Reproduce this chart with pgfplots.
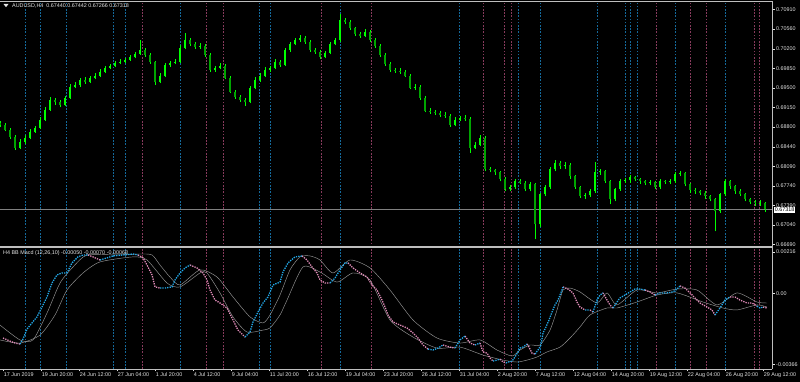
\documentclass[border=0pt]{standalone}
\usepackage{pgfplots}
\pgfplotsset{compat=1.18}
\usepackage{pgfplotstable}
\usepackage{fontspec}
\setmainfont{Liberation Sans}
\definecolor{vblue}{RGB}{20,105,155}
\definecolor{vpink}{RGB}{135,58,92}
\definecolor{cup}{RGB}{0,255,0}
\definecolor{cdn}{RGB}{0,165,0}
\definecolor{mblue}{RGB}{35,170,235}
\definecolor{mpink}{RGB}{225,140,185}
\definecolor{band}{RGB}{150,150,150}
\definecolor{txt}{RGB}{228,228,228}
\definecolor{framec}{RGB}{190,190,190}
\newcommand\tf{\fontsize{5.4}{6}\selectfont}

\pgfplotstableread{
x o h l c
0 0.68870 0.68910 0.68800 0.68839
5 0.68839 0.68870 0.68720 0.68750
10 0.68750 0.68780 0.68590 0.68625
15 0.68625 0.68650 0.68380 0.68428
20 0.68428 0.68580 0.68400 0.68535
25 0.68535 0.68650 0.68500 0.68607
30 0.68607 0.68760 0.68580 0.68714
35 0.68714 0.68820 0.68690 0.68786
40 0.68786 0.68980 0.68760 0.68929
45 0.68929 0.69160 0.68900 0.69108
50 0.69108 0.69330 0.69080 0.69287
55 0.69287 0.69320 0.69200 0.69251
60 0.69251 0.69290 0.69150 0.69197
65 0.69197 0.69360 0.69170 0.69323
70 0.69323 0.69560 0.69300 0.69520
75 0.69520 0.69600 0.69490 0.69555
80 0.69555 0.69680 0.69520 0.69645
85 0.69645 0.69690 0.69570 0.69609
90 0.69609 0.69720 0.69580 0.69681
95 0.69681 0.69760 0.69650 0.69717
100 0.69717 0.69830 0.69690 0.69788
105 0.69788 0.69900 0.69760 0.69860
110 0.69860 0.69930 0.69830 0.69896
115 0.69896 0.69990 0.69870 0.69949
120 0.69949 0.70010 0.69920 0.69967
125 0.69967 0.70040 0.69940 0.70003
130 0.70003 0.70090 0.69980 0.70057
135 0.70057 0.70150 0.70030 0.70110
140 0.70110 0.70361 0.70090 0.70182
145 0.70182 0.70220 0.70060 0.70092
150 0.70092 0.70120 0.69930 0.69967
155 0.69967 0.69990 0.69555 0.69609
160 0.69609 0.69760 0.69580 0.69717
165 0.69717 0.69950 0.69690 0.69913
170 0.69913 0.69990 0.69880 0.69949
175 0.69949 0.70010 0.69920 0.69967
180 0.69967 0.70260 0.69940 0.70218
185 0.70218 0.70486 0.70190 0.70361
190 0.70361 0.70400 0.70250 0.70289
195 0.70289 0.70320 0.70200 0.70236
200 0.70236 0.70300 0.70200 0.70254
205 0.70254 0.70290 0.70060 0.70092
210 0.70092 0.70120 0.69790 0.69824
215 0.69824 0.69900 0.69790 0.69860
220 0.69860 0.69940 0.69830 0.69896
225 0.69896 0.69920 0.69650 0.69681
230 0.69681 0.69710 0.69400 0.69430
235 0.69430 0.69460 0.69300 0.69341
240 0.69341 0.69380 0.69250 0.69287
245 0.69287 0.69320 0.69180 0.69251
250 0.69251 0.69540 0.69220 0.69502
255 0.69502 0.69690 0.69470 0.69645
260 0.69645 0.69760 0.69610 0.69717
265 0.69717 0.69870 0.69690 0.69824
270 0.69824 0.69900 0.69790 0.69860
275 0.69860 0.70010 0.69830 0.69967
280 0.69967 0.70000 0.69880 0.69913
285 0.69913 0.70220 0.69890 0.70182
290 0.70182 0.70330 0.70150 0.70289
295 0.70289 0.70400 0.70260 0.70361
300 0.70361 0.70440 0.70330 0.70397
305 0.70397 0.70430 0.70290 0.70325
310 0.70325 0.70350 0.70150 0.70182
315 0.70182 0.70220 0.70110 0.70146
320 0.70146 0.70180 0.70020 0.70057
325 0.70057 0.70170 0.70030 0.70128
330 0.70128 0.70320 0.70100 0.70289
335 0.70289 0.70400 0.70260 0.70361
340 0.70361 0.70826 0.70330 0.70719
345 0.70719 0.70760 0.70640 0.70683
350 0.70683 0.70710 0.70540 0.70576
355 0.70576 0.70600 0.70430 0.70468
360 0.70468 0.70500 0.70400 0.70433
365 0.70433 0.70550 0.70410 0.70504
370 0.70504 0.70530 0.70330 0.70361
375 0.70361 0.70390 0.70220 0.70254
380 0.70254 0.70280 0.70060 0.70092
385 0.70092 0.70120 0.69900 0.69931
390 0.69931 0.69960 0.69790 0.69824
395 0.69824 0.69860 0.69770 0.69806
400 0.69806 0.69850 0.69750 0.69788
405 0.69788 0.69820 0.69690 0.69717
410 0.69717 0.69740 0.69470 0.69502
415 0.69502 0.69560 0.69460 0.69520
420 0.69520 0.69550 0.69290 0.69323
425 0.69323 0.69350 0.69060 0.69090
430 0.69090 0.69130 0.69030 0.69072
435 0.69072 0.69110 0.69020 0.69054
440 0.69054 0.69090 0.68980 0.69018
445 0.69018 0.69060 0.68960 0.69001
450 0.69001 0.69030 0.68800 0.68839
455 0.68839 0.68970 0.68810 0.68929
460 0.68929 0.69000 0.68900 0.68965
465 0.68965 0.69010 0.68910 0.68947
470 0.68947 0.68980 0.68338 0.68428
475 0.68428 0.68530 0.68400 0.68481
480 0.68481 0.68650 0.68450 0.68607
485 0.68607 0.68640 0.68000 0.68034
490 0.68034 0.68080 0.67980 0.68016
495 0.68016 0.68050 0.67940 0.67980
500 0.67980 0.68010 0.67820 0.67855
505 0.67855 0.67890 0.67640 0.67676
510 0.67676 0.67760 0.67640 0.67712
515 0.67712 0.67860 0.67680 0.67819
520 0.67819 0.67870 0.67770 0.67800
525 0.67800 0.67830 0.67640 0.67676
530 0.67676 0.67810 0.67640 0.67765
535 0.67765 0.67800 0.66781 0.67049
540 0.67049 0.67620 0.67010 0.67586
545 0.67586 0.67750 0.67550 0.67712
550 0.67712 0.68070 0.67680 0.68034
555 0.68034 0.68200 0.68000 0.68159
560 0.68159 0.68190 0.68050 0.68088
565 0.68088 0.68160 0.68050 0.68123
570 0.68123 0.68150 0.67870 0.67909
575 0.67909 0.67940 0.67680 0.67712
580 0.67712 0.67740 0.67520 0.67551
585 0.67551 0.67610 0.67510 0.67570
590 0.67570 0.67690 0.67540 0.67640
595 0.67640 0.68170 0.67610 0.67980
600 0.67980 0.68040 0.67940 0.67998
605 0.67998 0.68020 0.67790 0.67819
610 0.67819 0.67850 0.67408 0.67497
615 0.67497 0.67710 0.67460 0.67676
620 0.67676 0.67860 0.67650 0.67819
625 0.67819 0.67880 0.67790 0.67837
630 0.67837 0.67930 0.67800 0.67891
635 0.67891 0.67920 0.67820 0.67855
640 0.67855 0.67880 0.67780 0.67819
645 0.67819 0.67850 0.67750 0.67783
650 0.67783 0.67840 0.67750 0.67801
655 0.67801 0.67830 0.67680 0.67712
660 0.67712 0.67860 0.67680 0.67819
665 0.67819 0.67850 0.67770 0.67801
670 0.67801 0.67860 0.67770 0.67820
675 0.67820 0.67990 0.67790 0.67944
680 0.67944 0.68000 0.67910 0.67962
685 0.67962 0.67990 0.67730 0.67765
690 0.67765 0.67790 0.67620 0.67658
695 0.67658 0.67700 0.67600 0.67640
700 0.67640 0.67670 0.67570 0.67604
705 0.67604 0.67640 0.67510 0.67551
710 0.67551 0.67580 0.67460 0.67497
715 0.67497 0.67530 0.66924 0.67282
720 0.67282 0.67620 0.67250 0.67586
725 0.67586 0.67870 0.67550 0.67819
730 0.67819 0.67850 0.67690 0.67730
735 0.67730 0.67760 0.67600 0.67640
740 0.67640 0.67680 0.67550 0.67586
745 0.67586 0.67620 0.67460 0.67497
750 0.67497 0.67530 0.67410 0.67443
755 0.67443 0.67480 0.67380 0.67425
760 0.67425 0.67480 0.67380 0.67440
765 0.67440 0.67442 0.67266 0.67318
}\candles

\begin{document}
\begin{tikzpicture}
\path[use as bounding box] (0pt,0pt) rectangle (800pt,382pt);
\fill[black] (0pt,0pt) rectangle (800pt,382pt);

% event lines spanning both panels
\begin{axis}[at={(0pt,13pt)}, anchor=south west, scale only axis,
  width=772pt, height=367pt, xmin=0, xmax=772, ymin=0, ymax=1,
  axis line style={draw=none}, ytick=\empty,
  xtick={25.7,40.3,66.7,113.7,125.7,180.3,259.3,270.5,340.3,459.3,518.3,540.3,597.3,625.7,630.2,637.2,675.5,725.7},
  xticklabels={}, major tick length=0pt,
  tick label style={opacity=0, text opacity=0},
  xmajorgrids=true,
  major grid style={vblue, line width=0.55pt, dash pattern=on 1.5pt off 1.7pt},
  extra x ticks={142.3,206.3,223.3,321,371,482.8,504.3,511.3,656.5,690.5,706.3,754.3,759.2},
  extra x tick labels={},
  extra x tick style={grid=major, major grid style={vpink, line width=0.55pt, dash pattern=on 1.5pt off 1.7pt}},
]
\addplot[draw=none] coordinates {(0,0) (772,1)};
\end{axis}

% price panel
\begin{axis}[at={(0pt,136pt)}, anchor=south west, scale only axis,
  width=772pt, height=244pt, xmin=0, xmax=772, ymin=0.66660, ymax=0.71041,
  axis line style={draw=none}, xtick=\empty, scaled y ticks=false,
  ytick={0.70910,0.70560,0.70200,0.69850,0.69500,0.69150,0.68800,0.68440,0.68090,0.67740,0.67390,0.67040,0.66690},
  yticklabels={0.70910,0.70560,0.70200,0.69850,0.69500,0.69150,0.68800,0.68440,0.68090,0.67740,0.67390,0.67040,0.66690},
  ytick pos=right, yticklabel pos=right,
  tick align=outside, major tick length=2.5pt,
  tick style={draw=txt, line width=0.4pt},
  y tick label style={font=\tf, text=txt, inner sep=1.5pt},
]
\addplot[gray, line width=0.5pt] coordinates {(0,0.67318) (772,0.67318)};
\addplot[cup, line width=0.7pt, mark=none, quiver={u=0, v=\thisrow{h}-\thisrow{l}}] table[x=x, y=l] {\candles};
\addplot[cup, line width=2.8pt, mark=none, quiver={u=0, v=\thisrow{c}-\thisrow{o}},
  x filter/.expression={\thisrow{c}>=\thisrow{o} ? x : nan}] table[x=x, y=o] {\candles};
\addplot[cdn, line width=2.8pt, mark=none, quiver={u=0, v=\thisrow{c}-\thisrow{o}},
  x filter/.expression={\thisrow{c}<\thisrow{o} ? x : nan}] table[x=x, y=o] {\candles};
\end{axis}

% MACD panel
\begin{axis}[at={(0pt,13pt)}, anchor=south west, scale only axis,
  width=772pt, height=121pt, xmin=0, xmax=772, ymin=-0.00389, ymax=0.00236,
  axis line style={draw=none}, scaled y ticks=false, scaled x ticks=false,
  unbounded coords=jump,
  xtick={2.7,40.7,78.7,116.7,154.7,192.7,230.7,268.7,306.7,344.7,382.7,420.7,458.7,496.7,534.7,572.7,610.7,648.7,686.7,724.7,762.7},
  xticklabels={17 Jun 2019,19 Jun 20:00,24 Jun 12:00,27 Jun 04:00,1 Jul 20:00,4 Jul 12:00,9 Jul 04:00,11 Jul 20:00,16 Jul 12:00,19 Jul 04:00,23 Jul 20:00,26 Jul 12:00,31 Jul 04:00,2 Aug 20:00,7 Aug 12:00,12 Aug 04:00,14 Aug 20:00,19 Aug 12:00,22 Aug 04:00,26 Aug 20:00,29 Aug 12:00},
  xtick pos=bottom,
  ytick={-0.00366,0,0.00216}, yticklabels={-0.00366,0.00,0.00216},
  ytick pos=right, yticklabel pos=right,
  tick align=outside, major tick length=2.5pt,
  tick style={draw=txt, line width=0.4pt},
  y tick label style={font=\tf, text=txt, inner sep=1.5pt},
  x tick label style={font=\tf, text=txt, inner sep=1pt, anchor=north west},
]
% band lines
\addplot[band, line width=0.45pt, smooth, tension=0.4] coordinates {
(0,-0.00162) (20,-0.00239) (33,-0.00239) (47,-0.00100) (60,0.00055) (73,0.00138) (87,0.00200) (117,0.00200) (140,0.00205) (152,0.00200) (160,0.00148) (170,0.00086) (180,0.00045) (200,0.00123) (217,0.00086) (233,-0.00017) (250,-0.00120) (263,-0.00151) (270,-0.00110) (280,-0.00007) (290,0.00123) (300,0.00190) (310,0.00195) (320,0.00174) (333,0.00107) (350,0.00174) (370,0.00133) (390,0.00019) (413,-0.00136) (437,-0.00229) (460,-0.00255) (480,-0.00239) (497,-0.00291) (512,-0.00322) (520,-0.00291) (530,-0.00265) (540,-0.00265) (550,-0.00188) (557,-0.00084) (563,0.00019) (570,0.00029) (580,0.00009) (597,-0.00048) (607,0.00004) (617,-0.00058) (637,0.00019) (657,0.00004) (677,0.00024) (697,0.00019) (717,-0.00058) (737,0.00004) (757,-0.00043) (767,-0.00048)};
\addplot[band, line width=0.45pt, smooth, tension=0.4] coordinates {
(0,-0.00239) (20,-0.00255) (40,-0.00214) (55,-0.00110) (67,0.00019) (83,0.00107) (100,0.00164) (133,0.00190) (147,0.00174) (167,0.00055) (180,0.00035) (200,0.00107) (207,0.00107) (220,0.00004) (233,-0.00120) (247,-0.00198) (263,-0.00188) (270,-0.00177) (280,-0.00110) (287,-0.00033) (303,0.00138) (320,0.00112) (337,0.00060) (353,0.00107) (370,0.00071) (390,-0.00136) (413,-0.00224) (437,-0.00281) (460,-0.00276) (483,-0.00317) (503,-0.00343) (517,-0.00353) (527,-0.00343) (537,-0.00327) (547,-0.00301) (560,-0.00276) (570,-0.00229) (580,-0.00172) (590,-0.00110) (607,-0.00074) (617,-0.00074) (637,-0.00043) (657,-0.00007) (677,0.00004) (703,-0.00043) (723,-0.00074) (737,-0.00084) (757,-0.00058) (767,-0.00069)};
% MACD falling (pink)
\addplot[mpink, line width=1.3pt, dash pattern=on 1.3pt off 1.1pt] coordinates {
(3,-0.00229) (10,-0.00245) (15,-0.00255) (20,-0.00260) (21,nan)
(88,0.00200) (93,0.00190) (100,0.00174) (101,nan)
(138,0.00200) (143,0.00185) (147,0.00148) (152,0.00097) (155,0.00035) (160,0.00029) (161,nan)
(190,0.00148) (197,0.00133) (203,0.00107) (207,0.00071) (210,0.00019) (215,-0.00033) (220,-0.00048) (227,-0.00074) (233,-0.00136) (238,-0.00188) (245,-0.00224) (246,nan)
(302,0.00195) (307,0.00174) (312,0.00138) (317,0.00107) (320,0.00071) (325,0.00055) (330,0.00055) (331,nan)
(348,0.00159) (353,0.00133) (360,0.00107) (367,0.00086) (372,0.00045) (377,0.00019) (382,-0.00033) (385,-0.00069) (388,-0.00110) (393,-0.00146) (400,-0.00162) (407,-0.00177) (413,-0.00203) (418,-0.00229) (423,-0.00265) (428,-0.00286) (429,nan)
(443,-0.00265) (450,-0.00276) (455,-0.00281) (456,nan)
(465,-0.00219) (470,-0.00255) (475,-0.00265) (476,nan)
(480,-0.00255) (483,-0.00301) (487,-0.00307) (490,-0.00332) (493,-0.00348) (494,nan)
(500,-0.00338) (503,-0.00353) (506,-0.00358) (507,nan)
(527,-0.00260) (529,-0.00276) (532,-0.00307) (535,-0.00312) (536,nan)
(563,0.00035) (568,0.00024) (573,0.00004) (577,-0.00043) (580,-0.00069) (585,-0.00084) (586,nan)
(590,-0.00084) (593,-0.00095) (594,nan)
(603,0.00004) (607,-0.00033) (610,-0.00058) (613,-0.00074) (614,nan)
(645,0.00019) (650,0.00009) (655,-0.00007) (656,nan)
(680,0.00040) (685,0.00029) (690,0.00004) (695,-0.00022) (700,-0.00048) (707,-0.00069) (712,-0.00084) (715,-0.00110) (716,nan)
(730,-0.00017) (735,-0.00017) (740,-0.00033) (747,-0.00048) (752,-0.00048) (757,-0.00064) (758,nan)
(763,-0.00069) (767,-0.00074)};
% MACD rising (blue)
\addplot[mblue, line width=1.3pt, dash pattern=on 1.3pt off 1.1pt] coordinates {
(20,-0.00260) (23,-0.00234) (27,-0.00183) (32,-0.00151) (37,-0.00120) (42,-0.00069) (47,-0.00017) (52,0.00055) (57,0.00097) (62,0.00107) (67,0.00107) (72,0.00159) (78,0.00190) (83,0.00200) (88,0.00200) (89,nan)
(100,0.00174) (107,0.00185) (113,0.00195) (123,0.00200) (133,0.00205) (138,0.00200) (139,nan)
(160,0.00029) (165,0.00029) (172,0.00035) (175,0.00071) (180,0.00107) (185,0.00133) (190,0.00148) (191,nan)
(245,-0.00224) (250,-0.00198) (253,-0.00146) (258,-0.00095) (263,-0.00048) (268,-0.00017) (273,0.00045) (280,0.00060) (283,0.00112) (288,0.00159) (295,0.00190) (302,0.00195) (303,nan)
(330,0.00055) (335,0.00081) (340,0.00123) (345,0.00159) (348,0.00159) (349,nan)
(428,-0.00286) (433,-0.00291) (438,-0.00281) (443,-0.00265) (444,nan)
(455,-0.00281) (460,-0.00239) (465,-0.00219) (466,nan)
(475,-0.00265) (480,-0.00255) (481,nan)
(493,-0.00348) (497,-0.00343) (500,-0.00338) (501,nan)
(506,-0.00358) (508,-0.00353) (512,-0.00348) (515,-0.00327) (518,-0.00301) (520,-0.00281) (523,-0.00276) (527,-0.00260) (528,nan)
(535,-0.00312) (538,-0.00291) (541,-0.00265) (543,-0.00203) (546,-0.00172) (549,-0.00136) (552,-0.00095) (555,-0.00058) (558,-0.00033) (562,0.00019) (563,0.00035) (564,nan)
(585,-0.00084) (590,-0.00084) (591,nan)
(593,-0.00095) (597,-0.00033) (600,-0.00007) (603,0.00004) (604,nan)
(613,-0.00074) (617,-0.00043) (620,-0.00022) (625,-0.00007) (630,0.00009) (635,0.00024) (640,0.00024) (645,0.00019) (646,nan)
(655,-0.00007) (660,0.00004) (667,0.00004) (673,0.00009) (677,0.00024) (680,0.00040) (681,nan)
(715,-0.00110) (720,-0.00074) (725,-0.00033) (730,-0.00017) (731,nan)
(757,-0.00064) (760,-0.00074) (763,-0.00069)};
\end{axis}

% frame and separators
\draw[framec, line width=0.8pt] (0pt,381pt) -- (772pt,381pt);
\draw[framec, line width=0.6pt] (772pt,381pt) -- (772pt,13pt);
\draw[framec, line width=0.6pt] (0pt,13pt) -- (772pt,13pt);
\draw[framec, line width=2pt] (0pt,135.3pt) -- (772pt,135.3pt);

% texts
\fill[txt] (3.5pt,378pt) -- (8.5pt,378pt) -- (6pt,374.8pt) -- cycle;
\node[anchor=west, inner sep=0pt, text=txt, font=\tf] at (12pt,376pt) {AUDUSD,H4\ \ 0.67440 0.67442 0.67266 0.67318};
\node[anchor=west, inner sep=0pt, text=txt, font=\tf] at (3pt,129.3pt) {H4 BB Macd (12,26,10) -0.00050 -0.00070 -0.00068};
\node[anchor=west, fill=white, text=black, inner sep=0.7pt, font=\tf] at (774pt,172pt) {0.67318};
\end{tikzpicture}
\end{document}
